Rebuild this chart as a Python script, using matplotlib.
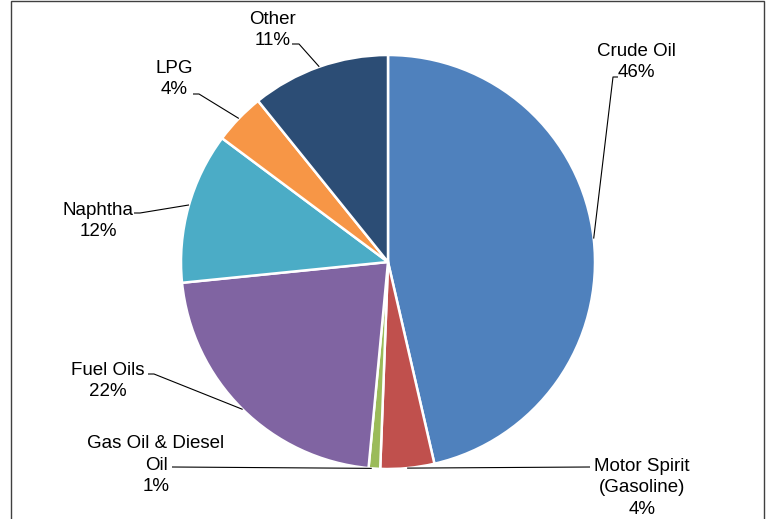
import numpy as np
import matplotlib
matplotlib.use('Agg')
import matplotlib.pyplot as plt
from matplotlib.patches import Rectangle

plt.rcParams['font.family'] = ['Liberation Sans', 'DejaVu Sans']

# data (share of products, %)
labels = ['Crude Oil', 'Motor Spirit\n(Gasoline)', 'Gas Oil & Diesel\nOil', 'Fuel Oils',
          'Naphtha', 'LPG', 'Other']
shares = [46.4, 4.2, 0.9, 21.9, 11.8, 4.0, 10.8]
colors = ['#4F81BD', '#C0504D', '#9BBB59', '#8064A2', '#4BACC6', '#F79646', '#2C4D75']

# layout in pixel space (y measured from top)
W, H = 769, 519
cx, cy, r = 388, 262, 207
text_pos = [(636, 62), (642, 488), (156, 465), (108, 381), (98, 221), (174, 79), (273, 30)]
# leader: (start point near text, elbow point or None, angle where it meets pie)
leaders = [((618, 77), (613, 77), 6.5),
           ((590, 467), None, -84.7),
           ((172, 467), None, -94.5),
           ((148, 374), (154, 374), 225.4),
           ((134, 213), (140, 213), 164.0),
           ((193, 94), (199, 94), 136.1),
           ((292, 44), (299, 44), 109.4)]

fig = plt.figure(figsize=(W / 100, H / 100), dpi=100)
ax = fig.add_axes([0, 0, 1, 1])

ax.pie(shares, colors=colors, startangle=90, counterclock=False,
       center=(cx, H - cy), radius=r,
       wedgeprops=dict(edgecolor='white', linewidth=1.8))
ax.set_xlim(0, W)
ax.set_ylim(0, H)
ax.set_aspect('equal')
ax.axis('off')

for lab, val, (tx, ty), (p0, p1, ang) in zip(labels, shares, text_pos, leaders):
    ax.text(tx, H - ty, f'{lab}\n{val:.0f}%', ha='center', va='center',
            fontsize=13.5, linespacing=1.35, color='black')
    px = cx + r * np.cos(np.radians(ang))
    py = (H - cy) + r * np.sin(np.radians(ang))
    pts = [p0] + ([p1] if p1 else [])
    xs = [p[0] for p in pts] + [px]
    ys = [H - p[1] for p in pts] + [py]
    ax.plot(xs, ys, color='black', linewidth=0.8, solid_capstyle='butt')

# chart frame
ax.add_patch(Rectangle((11, -5), 753, H - 1 + 5, fill=False, edgecolor='#404040',
                       linewidth=1.0, clip_on=False))

fig.savefig('out.png', dpi=100)
